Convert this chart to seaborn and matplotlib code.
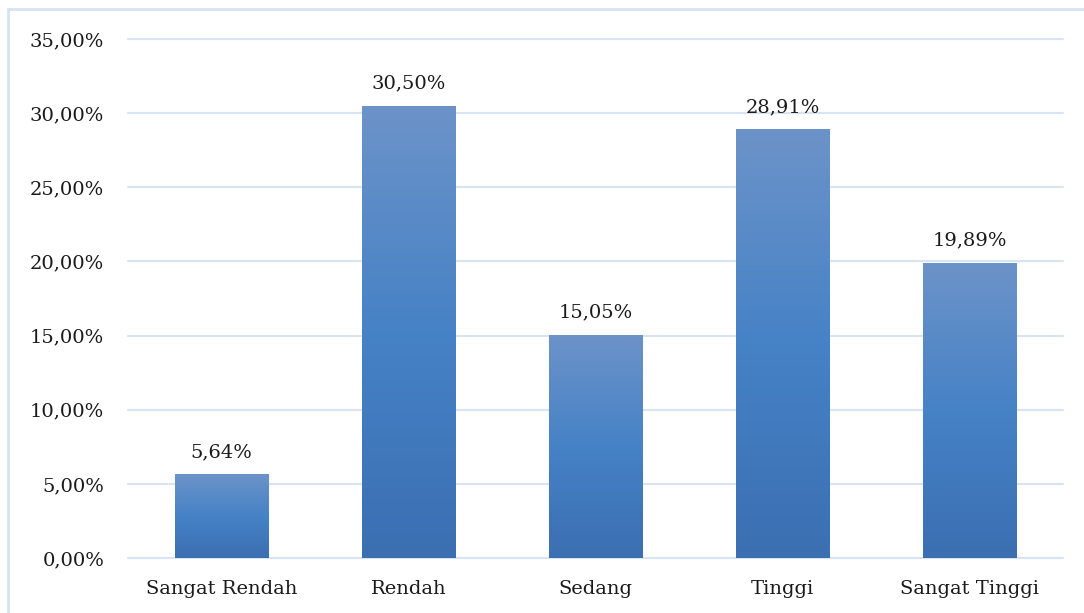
import numpy as np
import matplotlib
matplotlib.use("Agg")
import matplotlib.pyplot as plt
import seaborn as sns
from matplotlib.colors import LinearSegmentedColormap
from matplotlib.patches import Rectangle

# data
categories = ["Sangat Rendah", "Rendah", "Sedang", "Tinggi", "Sangat Tinggi"]
percentages = [5.64, 30.50, 15.05, 28.91, 19.89]
y_ticks = [0, 5, 10, 15, 20, 25, 30, 35]

sns.set_style("white")
plt.rcParams["font.family"] = ["DejaVu Serif"]

fig = plt.figure(figsize=(10.84, 6.13), dpi=100)
ax = fig.add_axes([0.118, 0.0897, 0.863, 0.8467])

sns.barplot(x=categories, y=percentages, ax=ax, width=0.5,
            color="#4a86c8", saturation=1)

# gradient fill like the office chart (light top, darker bottom)
grad = LinearSegmentedColormap.from_list(
    "bar", ["#3b6fb2", "#4682c6", "#6c93c9"])
ax.set_ylim(0, 35)
for patch in ax.patches:
    x0, y0 = patch.get_x(), patch.get_y()
    w, h = patch.get_width(), patch.get_height()
    img = np.linspace(0, 1, 256).reshape(-1, 1)
    im = ax.imshow(img, cmap=grad, origin="lower", aspect="auto",
                   extent=[x0, x0 + w, y0, y0 + h], zorder=2)
    im.set_clip_path(patch)
    patch.set_facecolor("none")
    patch.set_edgecolor("none")

ax.set_xlim(-0.5, len(categories) - 0.5)
ax.set_ylim(0, 35)

for i, v in enumerate(percentages):
    ax.text(i, v + 0.9, f"{v:.2f}%".replace(".", ","), ha="center",
            va="bottom", fontsize=14, color="#1a1a1a")

ax.set_yticks(y_ticks)
ax.set_yticklabels([f"{t:.2f}%".replace(".", ",") for t in y_ticks])
ax.tick_params(axis="y", length=0, pad=17, labelsize=14, labelcolor="#1a1a1a")
ax.tick_params(axis="x", length=0, pad=16, labelsize=14, labelcolor="#1a1a1a")
ax.grid(axis="y", color="#d9e4f2", linewidth=1.5)
for gl in ax.get_ygridlines():
    gl.set_clip_on(False)
ax.set_axisbelow(True)
for s in ax.spines.values():
    s.set_visible(False)
ax.set_xlabel("")
ax.set_ylabel("")

# light blue frame around the chart
fig.patches.append(Rectangle((0.0074, -0.01), 1.02, 0.996, transform=fig.transFigure,
                             fill=False, edgecolor="#d6e3f2", linewidth=2))

fig.savefig("out.png", dpi=100)
